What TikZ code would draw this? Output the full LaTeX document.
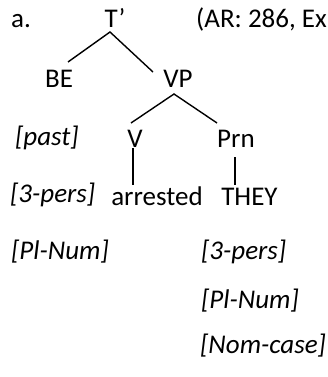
\documentclass[tikz,border=0pt]{standalone}
\usepackage{fontspec}
\setmainfont{Carlito}
\usetikzlibrary{calc}
\begin{document}
\begin{tikzpicture}[x=1pt,y=-1pt,
  lbl/.style={inner sep=0pt,anchor=base,font=\fontsize{27}{32}\selectfont},
  feat/.style={inner sep=0pt,anchor=base west,font=\fontsize{27}{32}\selectfont\itshape},
  edge/.style={line width=1.4pt,black}]
\useasboundingbox (0,0) rectangle (328,377);
\node[lbl] (a) at (21,28) {a.};
\node[lbl] (T) at (115,28) {T’};
\node[lbl,anchor=base west] (ref) at (196,28) {(AR: 286, Ex};
\node[lbl] (BE) at (59,88) {BE};
\node[lbl] (VP) at (178,88) {VP};
\node[lbl] (V) at (135,147) {V};
\node[lbl] (Prn) at (236,147) {Prn};
\node[lbl] (arr) at (157,205) {arrested};
\node[lbl] (THEY) at (249.5,205) {THEY};
\node[feat] (f1) at (15,145) {[past]};
\node[feat] (f2) at (10,202) {[3-pers]};
\node[feat] (f3) at (11,259) {[Pl-Num]};
\node[feat] (g1) at (201,259) {[3-pers]};
\node[feat] (g2) at (201,308) {[Pl-Num]};
\node[feat] (g3) at (200,353) {[Nom-case]};
\draw[edge] ($(BE.base)+(9,-26)$) -- ($(T.base)+(-5,4)$) -- ($(VP.base)+(-25,-16)$);
\draw[edge] ($(V.base)+(-4,-24)$) -- ($(VP.base)+(-4,6)$) -- ($(Prn.base)+(-19,-24)$);
\draw[edge] ($(V.base)+(-2,1)$) -- ($(arr.base)+(-24,-20)$);
\draw[edge] ($(Prn.base)+(-1,10)$) -- ($(THEY.base)+(-14.5,-20)$);
\end{tikzpicture}
\end{document}
